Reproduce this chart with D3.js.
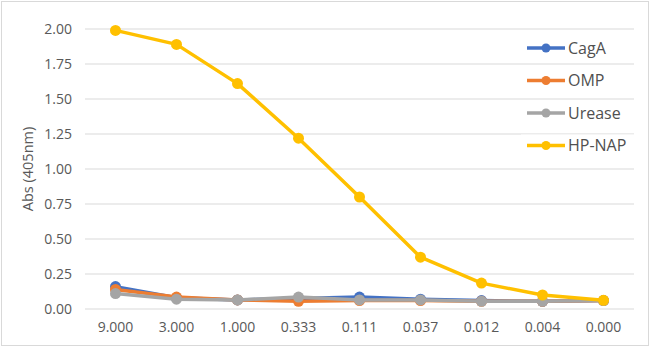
<!DOCTYPE html>
<html>
<head>
<meta charset="utf-8">
<script src="https://cdn.jsdelivr.net/npm/d3@7"></script>
<style>
  body { margin: 0; background: #fff; }
  svg { display: block; font-family: "Open Sans", "Liberation Sans", sans-serif; }
</style>
</head>
<body>
<div id="chart"></div>
<script>
// dilution categories
const categories = ['9.000', '3.000', '1.000', '0.333', '0.111', '0.037', '0.012', '0.004', '0.000'];
const yTicks = [0, 0.25, 0.5, 0.75, 1.0, 1.25, 1.5, 1.75, 2.0];

const cagA   = [0.16, 0.08, 0.065, 0.075, 0.085, 0.07, 0.06, 0.055, 0.06];
const omp    = [0.14, 0.085, 0.065, 0.055, 0.06, 0.06, 0.055, 0.055, 0.06];
const urease = [0.11, 0.07, 0.065, 0.085, 0.065, 0.065, 0.055, 0.055, 0.06];
const hpNap  = [1.99, 1.89, 1.61, 1.22, 0.80, 0.37, 0.185, 0.10, 0.062];

const seriesNames = ['CagA', 'OMP', 'Urease', 'HP-NAP'];
const seriesColors = ['#4472C4', '#ED7D31', '#A5A5A5', '#FFC000'];
const seriesValues = [cagA, omp, urease, hpNap];

const width = 650, height = 347;
const margin = { top: 29, right: 16, bottom: 37, left: 85 };

const svg = d3.select('#chart')
  .append('svg')
  .attr('width', width)
  .attr('height', height);

// chart border
svg.append('rect')
  .attr('x', 1.5).attr('y', 1.5)
  .attr('width', width - 3).attr('height', height - 3)
  .attr('fill', '#fff')
  .attr('stroke', '#D9D9D9')
  .attr('stroke-width', 1);

const x = d3.scaleBand()
  .domain(categories)
  .range([margin.left, width - margin.right]);

const y = d3.scaleLinear()
  .domain([0, 2])
  .range([height - margin.bottom - 1, margin.top]);

// gridlines
svg.append('g')
  .selectAll('line')
  .data(yTicks)
  .enter()
  .append('line')
  .attr('x1', margin.left)
  .attr('x2', width - margin.right)
  .attr('y1', d => y(d))
  .attr('y2', d => y(d))
  .attr('stroke', '#D9D9D9')
  .attr('stroke-width', 1);

// y axis
const yAxis = svg.append('g')
  .attr('transform', `translate(${margin.left},0)`)
  .call(d3.axisLeft(y).tickValues(yTicks).tickFormat(d3.format('.2f')).tickSize(0).tickPadding(13));
yAxis.select('.domain').remove();
yAxis.selectAll('text')
  .attr('fill', '#595959')
  .attr('font-size', '14px')
  .attr('font-family', '"Open Sans", "Liberation Sans", sans-serif');

// x axis
const xAxis = svg.append('g')
  .attr('transform', `translate(0,${y(0)})`)
  .call(d3.axisBottom(x).tickSize(0).tickPadding(13));
xAxis.select('.domain').remove();
xAxis.selectAll('text')
  .attr('fill', '#595959')
  .attr('font-size', '14px')
  .attr('font-family', '"Open Sans", "Liberation Sans", sans-serif');

// y axis title
svg.append('text')
  .attr('transform', `translate(33,${(y(0) + y(2)) / 2}) rotate(-90)`)
  .attr('text-anchor', 'middle')
  .attr('fill', '#595959')
  .attr('font-size', '14.5px')
  .text('Abs (405nm)');

const line = d3.line()
  .x((d, i) => x(categories[i]) + x.bandwidth() / 2)
  .y(d => y(d));

// series
seriesValues.forEach((vals, s) => {
  const g = svg.append('g');
  g.append('path')
    .datum(vals)
    .attr('d', line)
    .attr('fill', 'none')
    .attr('stroke', seriesColors[s])
    .attr('stroke-width', 3.5)
    .attr('stroke-linejoin', 'round');
  g.selectAll('circle')
    .data(vals)
    .enter()
    .append('circle')
    .attr('cx', (d, i) => x(categories[i]) + x.bandwidth() / 2)
    .attr('cy', d => y(d))
    .attr('r', 5.5)
    .attr('fill', seriesColors[s]);
});

// legend
const legend = svg.append('g')
  .attr('transform', 'translate(527,48)');
seriesNames.forEach((name, i) => {
  const row = legend.append('g').attr('transform', `translate(0,${i * 32.5})`);
  row.append('rect')
    .attr('x', -6).attr('y', -11)
    .attr('width', 114).attr('height', 22)
    .attr('fill', '#fff');
  row.append('line')
    .attr('x1', 0).attr('x2', 38)
    .attr('y1', 0).attr('y2', 0)
    .attr('stroke', seriesColors[i])
    .attr('stroke-width', 3.5);
  row.append('circle')
    .attr('cx', 19).attr('cy', 0).attr('r', 4.5)
    .attr('fill', seriesColors[i]);
  row.append('text')
    .attr('x', 41).attr('y', 0)
    .attr('dy', '0.35em')
    .attr('fill', '#505050')
    .attr('font-size', '16px')
    .text(name);
});
</script>
</body>
</html>
